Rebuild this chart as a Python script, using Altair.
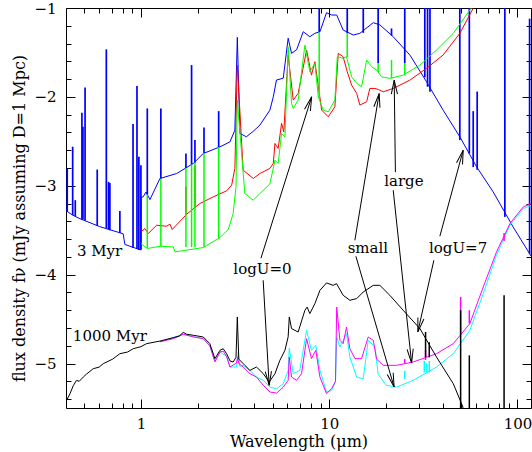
import math
import numpy as np
import pandas as pd
import altair as alt

FONT = "DejaVu Serif"
W, H = 465, 400
XDOM = [0.4, 118.0]
YDOM = [-5.5, -1.0]

# ---------------- 3 Myr models ----------------
blue_lam = [0.40, 0.434, 0.474, 0.605, 0.805, 0.813, 0.822, 0.989, 1.0, 1.003, 1.028, 1.064, 1.117, 1.262,
            1.549, 1.897, 2.143, 2.63, 2.972, 3.155, 3.251, 3.357, 3.63, 3.936, 4.285, 4.842, 5.047, 5.248,
            5.702, 6.053, 6.31, 6.714, 7.278, 7.889, 8.395, 8.93, 9.68, 10.3, 10.96, 11.86, 13.43, 14.55,
            17.14, 18.58, 21.88, 26.85, 32.89, 40.27, 49.43, 60.67, 74.3, 94.8, 118.9]
blue_f = [-3.28, -3.33, -3.37, -3.46, -3.54, -3.60, -3.66, -3.72, -3.72, -3.13, -3.125, -3.07, -3.155, -2.918,
          -2.862, -2.749, -2.637, -2.562, -2.506, -2.374, -1.33, -2.41, -2.449, -2.39, -2.318, -2.149, -2.0, -1.81,
          -1.79, -1.34, -1.51, -1.47, -1.267, -1.323, -1.285, -1.267, -1.053, -1.079, -1.079, -1.248, -1.304, -1.285,
          -1.165, -1.19, -1.323, -1.53, -1.83, -2.149, -2.449, -2.787, -3.069, -3.463, -3.80]

red_lam = [1.0, 1.05, 1.094, 1.211, 1.368, 1.426, 1.466, 1.75, 2.056, 2.421, 2.851, 3.034, 3.155, 3.251, 3.491,
           3.954, 4.285, 4.842, 5.047, 5.152, 5.358, 5.585, 5.741, 6.053, 6.442, 6.839, 7.586, 8.054, 8.395, 9.12,
           9.886, 10.72, 11.17, 11.86, 12.47, 13.15, 14.0, 14.55, 15.81, 16.44, 17.5, 18.2, 19.36, 21.88, 26.85,
           32.89, 40.27, 49.43, 58.2, 63.1]
red_f = [-3.519, -3.481, -3.537, -3.444, -3.455, -3.432, -3.492, -3.32, -3.2, -3.125, -3.057, -2.993, -2.805, -1.642,
         -2.824, -2.918, -2.862, -2.805, -2.749, -2.524, -2.58, -2.298, -2.393, -1.529, -2.036, -1.961, -1.473, -1.755,
         -1.604, -2.149, -2.224, -2.112, -1.51, -1.548, -1.717, -1.867, -1.961, -2.092, -2.055, -1.905, -1.905, -1.916,
         -1.943, -1.905, -1.811, -1.679, -1.529, -1.285, -1.003, -0.88]

green_lam = [1.0, 1.081, 1.262, 1.486, 1.517, 2.143, 2.63, 2.911, 3.09, 3.199, 3.251, 3.565, 3.954, 4.285, 4.842,
             5.152, 5.358, 5.585, 5.821, 6.053, 6.31, 6.442, 6.839, 7.43, 7.889, 8.395, 8.75, 9.29, 9.886, 10.72,
             11.04, 11.86, 12.36, 13.15, 14.0, 14.86, 15.81, 16.79, 17.86, 18.97, 20.99, 24.72, 30.34, 37.15, 45.6,
             55.85, 60.3]
green_f = [-3.65, -3.706, -3.68, -3.688, -3.744, -3.695, -3.582, -3.492, -3.312, -3.012, -2.036, -3.087, -3.162,
           -3.087, -2.98, -2.712, -2.749, -2.412, -2.449, -1.435, -2.073, -2.13, -2.036, -1.417, -1.717, -1.623,
           -1.998, -2.149, -2.168, -2.036, -1.548, -1.566, -1.548, -1.774, -1.848, -1.886, -1.586, -1.661, -1.698,
           -1.774, -1.792, -1.755, -1.642, -1.473, -1.285, -1.023, -0.93]

# emission lines (wavelength, bottom, top)
blue_sp_lam = [0.406, 0.434, 0.448, 0.486, 0.492, 0.505, 0.586, 0.655, 0.673, 0.684, 0.773, 0.908, 0.953, 0.975,
               1.0, 1.081, 1.276, 1.734, 1.858, 1.936, 2.163, 2.588, 8.85, 12.47, 15.17, 18.2, 21.43, 25.2, 32.2,
               33.3, 34.3, 49.4, 55.5, 58.2, 61.1, 85.7, 116.0]
blue_sp_lo = [-3.29, -3.33, -3.34, -3.38, -3.38, -3.39, -3.45, -3.48, -3.49, -3.50, -3.53, -3.70, -3.71, -3.72,
              -3.72, -3.10, -2.92, -2.80, -2.76, -2.74, -2.63, -2.565, -1.27, -1.285, -1.28, -1.62, -1.31, -1.62,
              -1.78, -1.886, -1.943, -2.486, -2.636, -2.79, -2.82, -3.35, -3.77]
blue_sp_hi = [-2.805, -2.561, -3.162, -2.179, -2.337, -1.893, -2.817, -1.465, -2.956, -2.97, -3.283, -2.306, -1.878,
              -2.674, -2.768, -2.13, -2.13, -2.637, -1.642, -2.486, -2.344, -2.16, -0.9, -0.9, -0.9, -0.9, -1.23,
              -0.9, -0.9, -0.9, -0.9, -0.9, -0.9, -2.16, -1.94, -0.9, -1.12]

red_sp_lam = [1.734, 1.936]
red_sp_lo = [-3.32, -3.25]
red_sp_hi = [-3.01, -2.77]

green_sp_lam = [1.081, 1.276, 1.734, 1.858, 1.936, 2.163, 2.588, 8.85, 12.47, 18.2, 21.43, 25.2]
green_sp_lo = [-3.70, -3.68, -3.69, -3.69, -3.69, -3.69, -3.59, -2.0, -1.55, -1.72, -1.79, -1.76]
green_sp_hi = [-3.10, -2.92, -2.80, -2.76, -2.74, -2.63, -2.565, -1.27, -1.285, -1.62, -1.586, -1.62]

# ---------------- 1000 Myr models ----------------
black_lam = [0.40, 0.403, 0.42, 0.437, 0.455, 0.47, 0.494, 0.513, 0.558, 0.60, 0.631, 0.708, 0.773, 0.85, 0.91,
             1.0, 1.072, 1.262, 1.486, 1.60, 1.679, 1.75, 1.897, 2.143, 2.323, 2.472, 2.63, 2.735, 2.851, 2.972,
             3.09, 3.199, 3.251, 3.31, 3.565, 3.793, 4.111, 4.467, 4.797, 5.152, 5.47, 5.821, 6.053, 6.138, 6.31,
             6.839, 7.43, 7.638, 7.889, 8.395, 8.93, 9.68, 10.5, 10.94, 11.86, 12.88, 14.0, 15.17, 17.14, 18.58,
             20.99, 24.72, 30.34, 37.15, 45.6, 50.5, 52.5]
black_f = [-5.48, -5.414, -5.339, -5.25, -5.189, -5.20, -5.152, -5.12, -5.058, -5.04, -5.001, -4.95, -4.889, -4.87,
           -4.833, -4.81, -4.776, -4.747, -4.709, -4.69, -4.649, -4.67, -4.682, -4.701, -4.776, -4.945, -4.851,
           -4.833, -4.889, -4.97, -4.983, -4.93, -4.476, -4.95, -5.02, -5.077, -5.039, -5.114, -5.208, -5.114,
           -4.964, -4.851, -4.70, -4.476, -4.607, -4.645, -4.401, -4.364, -4.438, -4.326, -4.176, -4.093, -4.12,
           -4.101, -4.232, -4.288, -4.269, -4.195, -4.12, -4.12, -4.232, -4.401, -4.607, -4.927, -5.226, -5.452,
           -5.55]

mag_lam = [1.262, 1.486, 1.679, 1.897, 2.143, 2.323, 2.472, 2.63, 2.735, 2.851, 2.972, 3.22, 3.26, 3.31, 3.491,
           3.793, 4.111, 4.467, 4.842, 5.26, 5.702, 6.053, 6.138, 6.31, 6.714, 7.13, 7.586, 8.054, 8.49, 8.93, 9.68,
           10.3, 10.8, 10.96, 11.4, 11.86, 12.36, 12.88, 13.71, 14.86, 16.11, 17.14, 17.86, 19.36, 22.8, 27.9, 37.15,
           45.6, 55.85, 65.8, 77.4, 91.2, 107.4, 118.9]
mag_f = [-4.755, -4.72, -4.67, -4.70, -4.72, -4.80, -4.98, -4.87, -4.86, -4.92, -5.039, -4.994, -4.93, -5.0, -5.039,
         -5.114, -5.152, -5.245, -5.32, -5.332, -5.265, -5.189, -4.927, -5.152, -5.189, -5.114, -4.72, -4.945,
         -4.851, -5.152, -5.339, -5.283, -5.2, -4.364, -4.739, -4.776, -4.589, -4.833, -4.945, -4.945, -4.701,
         -4.739, -4.95, -5.02, -5.02, -4.983, -4.889, -4.776, -4.551, -4.139, -3.744, -3.425, -3.237, -3.20]

cyan_lam = [1.262, 1.679, 1.897, 2.143, 2.323, 2.472, 2.63, 2.851, 2.972, 3.22, 3.29, 3.35, 3.491, 3.793, 4.111,
            4.467, 4.842, 5.26, 5.702, 6.053, 6.138, 6.442, 6.98, 7.586, 8.054, 8.49, 8.93, 9.68, 10.3, 10.8, 10.96,
            11.4, 12.36, 12.88, 14.0, 15.17, 16.11, 17.5, 18.2, 20.1, 22.8, 27.9, 37.15, 45.6, 55.85, 65.8, 77.4,
            91.2, 107.4, 118.9]
cyan_f = [-4.755, -4.67, -4.70, -4.72, -4.80, -4.98, -4.87, -4.92, -5.039, -5.039, -4.87, -5.03, -5.02, -5.077,
          -5.152, -5.189, -5.265, -5.283, -5.226, -5.077, -4.83, -5.114, -5.077, -4.626, -4.851, -4.795, -5.077,
          -5.32, -5.302, -5.2, -4.701, -4.814, -4.664, -4.927, -5.152, -5.17, -4.739, -4.814, -5.12, -5.245, -5.265,
          -5.189, -5.039, -4.889, -4.626, -4.213, -3.781, -3.444, -3.256, -3.218]

black_sp_lam = [32.5, 34.0, 49.9, 55.5, 84.9]
black_sp_lo = [-4.93, -4.93, -5.6, -5.6, -5.6]
black_sp_hi = [-4.645, -4.76, -4.40, -4.908, -4.232]

mag_sp_lam = [25.2, 32.5, 49.9, 55.5, 84.9]
mag_sp_lo = [-5.0, -4.96, -4.68, -4.55, -3.62]
mag_sp_hi = [-4.95, -4.85, -4.25, -4.40, -3.53]

cyan_sp_lam = [25.2, 32.0, 33.0, 34.0]
cyan_sp_lo = [-5.17, -5.1, -5.1, -5.1]
cyan_sp_hi = [-5.08, -4.97, -5.0, -4.97]

# ---------------- annotations ----------------
note_left_text = ["3 Myr", "1000 Myr"]
note_left_lam = [0.457, 0.435]
note_left_f = [-3.793, -4.75]

note_text = ["logU=0", "small", "large", "logU=7"]
note_lam = [4.42, 16.05, 24.93, 48.4]
note_f = [-3.939, -3.703, -2.948, -3.703]

arr_tail_lam = [4.34, 4.46, 13.69, 13.86, 22.47, 21.88, 38.7, 35.97]
arr_tail_f = [-3.815, -4.063, -3.613, -3.793, -2.847, -3.05, -3.568, -3.838]
arr_tip_lam = [8.07, 4.80, 18.43, 22.13, 22.15, 27.4, 51.5, 29.57]
arr_tip_f = [-1.999, -5.245, -1.961, -5.265, -1.811, -4.994, -2.599, -4.644]

x_major = [1, 10, 100]
x_minor = [0.5, 0.6, 0.7, 0.8, 0.9, 2, 3, 4, 5, 6, 7, 8, 9, 20, 30, 40, 50, 60, 70, 80, 90]
y_major = [-5, -4, -3, -2, -1]
y_minor = [-5.4, -5.2, -4.8, -4.6, -4.4, -4.2, -3.8, -3.6, -3.4, -3.2, -2.8, -2.6, -2.4, -2.2,
           -1.8, -1.6, -1.4, -1.2]

# ---------------- chart ----------------
xs = alt.Scale(type="log", domain=XDOM, nice=False)
ys = alt.Scale(domain=YDOM, nice=False, zero=False)


def tick_axis(orient, values, size):
    return alt.Axis(orient=orient, values=values, offset=-size, tickSize=size, ticks=True,
                    labels=False, domain=False, grid=False, title=None,
                    tickColor="black", tickWidth=1)


xlab = alt.Axis(orient="bottom", values=x_major, format="~g", ticks=False, tickSize=0,
                domain=False, grid=False, labelPadding=8, labelFont=FONT, labelFontSize=15,
                labelColor="black", title="Wavelength (\u03bcm)", titleFont=FONT,
                titleFontSize=16, titleFontWeight="normal", titleColor="black",
                titleY=33, titleBaseline="middle")
ylab = alt.Axis(orient="left", values=y_major, format="d", ticks=False, tickSize=0,
                domain=False, grid=False, labelPadding=10, labelFont=FONT, labelFontSize=15,
                labelColor="black", title="flux density f\u03bd (mJy assuming D=1 Mpc)",
                titleFont=FONT, titleFontSize=16, titleFontWeight="normal", titleColor="black",
                titleX=-47, titleY=210, titleAngle=270, titleBaseline="middle", titleAlign="center")


def curve(lam, f, color, xa=None, ya=None, sw=1.0):
    df = pd.DataFrame({"lam": lam, "f": f})
    return alt.Chart(df).mark_line(color=color, strokeWidth=sw, clip=True).encode(
        x=alt.X("lam:Q", scale=xs, axis=xa),
        y=alt.Y("f:Q", scale=ys, axis=ya))


def spikes(lam, lo, hi, color, xa=None, ya=None, sw=1.5):
    df = pd.DataFrame({"lam": lam, "lo": lo, "hi": hi})
    return alt.Chart(df).mark_rule(color=color, strokeWidth=sw, clip=True).encode(
        x=alt.X("lam:Q", scale=xs, axis=xa),
        y=alt.Y("lo:Q", scale=ys, axis=ya),
        y2="hi:Q")


PXDEX = W / math.log10(XDOM[1] / XDOM[0])
PXU = H / (YDOM[1] - YDOM[0])
arr = pd.DataFrame({"tl": arr_tail_lam, "tf": arr_tail_f, "hl": arr_tip_lam, "hf": arr_tip_f})
dx = (np.log10(arr["hl"]) - np.log10(arr["tl"])) * PXDEX
dy = -(arr["hf"] - arr["tf"]) * PXU
arr["ang"] = np.degrees(np.arctan2(dx, -dy)) % 360

shafts = alt.Chart(arr).mark_rule(color="black", strokeWidth=1).encode(
    x=alt.X("tl:Q", scale=xs, axis=None), x2="hl:Q",
    y=alt.Y("tf:Q", scale=ys, axis=None), y2="hf:Q")
heads = alt.Chart(arr).mark_point(shape="M -0.22 1 L 0 0 L 0.22 1", filled=False, stroke="black",
                                  strokeWidth=1, size=784, opacity=1).encode(
    x=alt.X("hl:Q", scale=xs, axis=None),
    y=alt.Y("hf:Q", scale=ys, axis=None),
    angle=alt.Angle("ang:Q", scale=None))

txt_left = alt.Chart(pd.DataFrame({"t": note_left_text, "lam": note_left_lam, "f": note_left_f})).mark_text(
    font=FONT, fontSize=15, align="left", baseline="alphabetic", color="black").encode(
    x=alt.X("lam:Q", scale=xs, axis=None), y=alt.Y("f:Q", scale=ys, axis=None), text="t:N")
txt_mid = alt.Chart(pd.DataFrame({"t": note_text, "lam": note_lam, "f": note_f})).mark_text(
    font=FONT, fontSize=15, align="center", baseline="middle", color="black").encode(
    x=alt.X("lam:Q", scale=xs, axis=None), y=alt.Y("f:Q", scale=ys, axis=None), text="t:N")

layers = [
    curve(blue_lam, blue_f, "#0000ff", xlab, ylab),
    spikes(blue_sp_lam, blue_sp_lo, blue_sp_hi, "#0000ff",
           tick_axis("bottom", x_major, 9), tick_axis("left", y_major, 9), sw=1.7),
    curve(red_lam, red_f, "#ff0000", tick_axis("bottom", x_minor, 5), tick_axis("left", y_minor, 5)),
    spikes(red_sp_lam, red_sp_lo, red_sp_hi, "#ff0000",
           tick_axis("top", x_major, 9), tick_axis("right", y_major, 9)),
    curve(green_lam, green_f, "#00ff00", tick_axis("top", x_minor, 5), tick_axis("right", y_minor, 5)),
    spikes(green_sp_lam, green_sp_lo, green_sp_hi, "#00ff00"),
    curve(cyan_lam, cyan_f, "#00ffff"),
    spikes(cyan_sp_lam, cyan_sp_lo, cyan_sp_hi, "#00ffff"),
    curve(mag_lam, mag_f, "#ff00ff"),
    spikes(mag_sp_lam, mag_sp_lo, mag_sp_hi, "#ff00ff"),
    curve(black_lam, black_f, "black"),
    spikes(black_sp_lam, black_sp_lo, black_sp_hi, "black"),
    shafts,
    heads,
    txt_left,
    txt_mid,
]

chart = alt.layer(*layers).resolve_axis(x="independent", y="independent").properties(
    width=W, height=H,
    autosize=alt.AutoSizeParams(type="none"),
    padding={"left": 66, "top": 8, "right": 1, "bottom": 44},
    background="white",
).configure_view(stroke="black", strokeWidth=1)

chart.save("out.html", embed_options={"renderer": "svg", "actions": False})
